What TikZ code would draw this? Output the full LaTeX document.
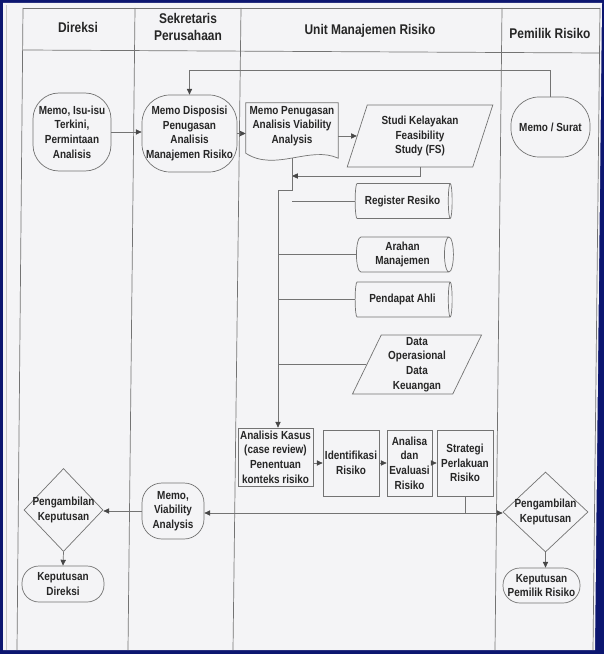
\documentclass[tikz,border=0pt]{standalone}
\usepackage{fontspec}
\setmainfont{Liberation Sans}[FakeStretch=0.85]
\usetikzlibrary{shapes.geometric,arrows.meta,calc}

\definecolor{frame}{HTML}{0C1670}
\definecolor{paper}{HTML}{F4F4F6}
\definecolor{ink}{HTML}{262626}
\definecolor{rule}{HTML}{737373}

\begin{document}
\begin{tikzpicture}[x=0.03cm,y=-0.03cm,
    every node/.style={font=\fontsize{10}{12.5}\selectfont\bfseries,text=ink,align=center,inner sep=0pt},
    wh/.style 2 args={minimum width=#1*0.03cm,minimum height=#2*0.03cm},
    head/.style={font=\fontsize{12}{14.5}\selectfont\bfseries},
    lane/.style={draw=rule,line width=0.6pt},
    term/.style={draw=rule,line width=0.6pt,rounded corners=#1*0.03cm},
    proc/.style={draw=rule,line width=0.6pt},
    store/.style 2 args={cylinder,draw=rule,line width=0.6pt,shape aspect=0.35,
      minimum height=#1*0.03cm,minimum width=#2*0.03cm},
    io/.style={trapezium,trapezium stretches=true,draw=rule,line width=0.6pt},
    decide/.style={diamond,draw=rule,line width=0.6pt},
    link/.style={draw=rule,line width=0.6pt},
    arrow/.style={link,-{Triangle[width=4.5pt,length=5pt,color=ink!85]}}
  ]
  \fill[frame] (0,0) rectangle (604,654);
  \fill[paper] (3,3) -- (602,3) -- (595,650) -- (3,650) -- cycle;
  \draw[rule!40] (6,5) -- (6,650);

  \draw[lane] (23,8) -- (600,8);
  \draw[lane] (23,50) -- (600,53);
  \draw[lane] (23,8) -- (17,650);
  \draw[lane] (135,8) -- (128,650);
  \draw[lane] (241,8) -- (233,650);
  \draw[lane] (502,8) -- (495,650);
  \draw[lane] (600,8) -- (593,650);

  \node[head] (h1) at (78,27) {Direksi};
  \node[head] (h2) at (188,27) {Sekretaris\\Perusahaan};
  \node[head] (h3) at (370,31) {Unit Manajemen Risiko};
  \node[head] (h4) at (550,33) {Pemilik Risiko};

  \node[term=26,wh={78}{78}] (memo) at (72,132) {Memo, Isu-isu\\Terkini,\\Permintaan\\Analisis};
  \node[term=28,wh={95}{77}] (dispo) at (189.5,133.5) {Memo Disposisi\\Penugasan\\Analisis\\Manajemen Risiko};
  \node[wh={92}{46}] (penugasan) at (292,126) {Memo Penugasan\\Analisis Viability\\Analysis};
  \draw[link] (penugasan.north west) -- (penugasan.north east)
    -- ($(penugasan.south east)+(0,9)$)
    .. controls ($(penugasan.south east)+(-28,-4)$) and ($(penugasan.south west)+(29,23)$) .. ($(penugasan.south west)+(0,4)$)
    -- cycle;
  \node[io,trapezium left angle=70,trapezium right angle=110,wh={146}{62}] (studi) at (420,136) {Studi Kelayakan\\Feasibility\\Study (FS)};
  \node[term=28,wh={79}{60}] (surat) at (550.5,127) {Memo / Surat};

  \node[store={97}{35}] (register) at (402.5,201) {Register Resiko};
  \node[store={97}{35}] (arahan) at (402.5,254.5) {Arahan\\Manajemen};
  \node[store={97}{35}] (pendapat) at (402.5,299.5) {Pendapat Ahli};
  \node[io,trapezium left angle=67,trapezium right angle=113,wh={130}{59}] (keu) at (417,364.5) {Data\\Operasional\\Data\\Keuangan};

  \node[proc,wh={75}{58}] (kasus) at (275.5,457) {Analisis Kasus\\(case review)\\Penentuan\\konteks risiko};
  \node[proc,wh={56}{66}] (ident) at (351,463) {Identifikasi\\Risiko};
  \node[proc,wh={45}{66}] (evaluasi) at (409.5,463) {Analisa\\dan\\Evaluasi\\Risiko};
  \node[proc,wh={56}{66}] (strategi) at (465,463) {Strategi\\Perlakuan\\Risiko};

  \node[term=20,wh={62}{56}] (viab) at (173,511) {Memo,\\Viability\\Analysis};
  \node[decide,wh={79}{83}] (pkd) at (63.5,510) {};
  \node (pkdtext) at (pkd) {Pengambilan\\Keputusan};
  \node[term=17,wh={82}{36}] (kepd) at (63,584) {Keputusan\\Direksi};
  \node[decide,wh={85}{80}] (pkp) at (545.5,512) {};
  \node (pkptext) at (pkp) {Pengambilan\\Keputusan};
  \node[term=17,wh={77}{35}] (kepp) at (541.5,585.5) {Keputusan\\Pemilik Risiko};

  \coordinate (top) at (0,70);
  \coordinate (fs) at (292,176);
  \coordinate (split) at (292,190);
  \coordinate (trunk) at (278,190);
  \coordinate (regend) at (292,201);
  \coordinate (hub) at (465,513);

  \draw[arrow] (memo.east) -- (memo.east -| dispo.west);
  \draw[arrow] (dispo.east) -- (dispo.east -| penugasan.west);
  \draw[arrow] (penugasan.east |- studi.west) -- (studi.west);
  \draw[arrow] (surat.north) |- (dispo.north |- top) -- (dispo.north);
  \draw[arrow] (studi.south) |- (fs);
  \draw[arrow] ($(penugasan.south)+(0,9)$) -- (split) -- (trunk) -- (trunk |- kasus.north);
  \draw[link] (register.west) -- (regend);
  \draw[link] (arahan.west) -- (arahan.west -| trunk);
  \draw[link] (pendapat.west) -- (pendapat.west -| trunk);
  \draw[link] (keu.west) -- (keu.west -| trunk);
  \draw[arrow] (kasus.east |- ident.west) -- (ident.west);
  \draw[arrow] (ident.east) -- (evaluasi.west);
  \draw[arrow] (evaluasi.east) -- (strategi.west);
  \draw[link] (strategi.south) -- (hub);
  \draw[arrow] (hub) -- (hub -| viab.east);
  \draw[arrow] (hub) -- (hub -| pkp.west);
  \draw[arrow] (viab.west) -- (viab.west -| pkd.east);
  \draw[arrow] (pkd.south) -- (kepd.north);
  \draw[arrow] (pkp.south) -- (pkp.south |- kepp.north);
\end{tikzpicture}
\end{document}
